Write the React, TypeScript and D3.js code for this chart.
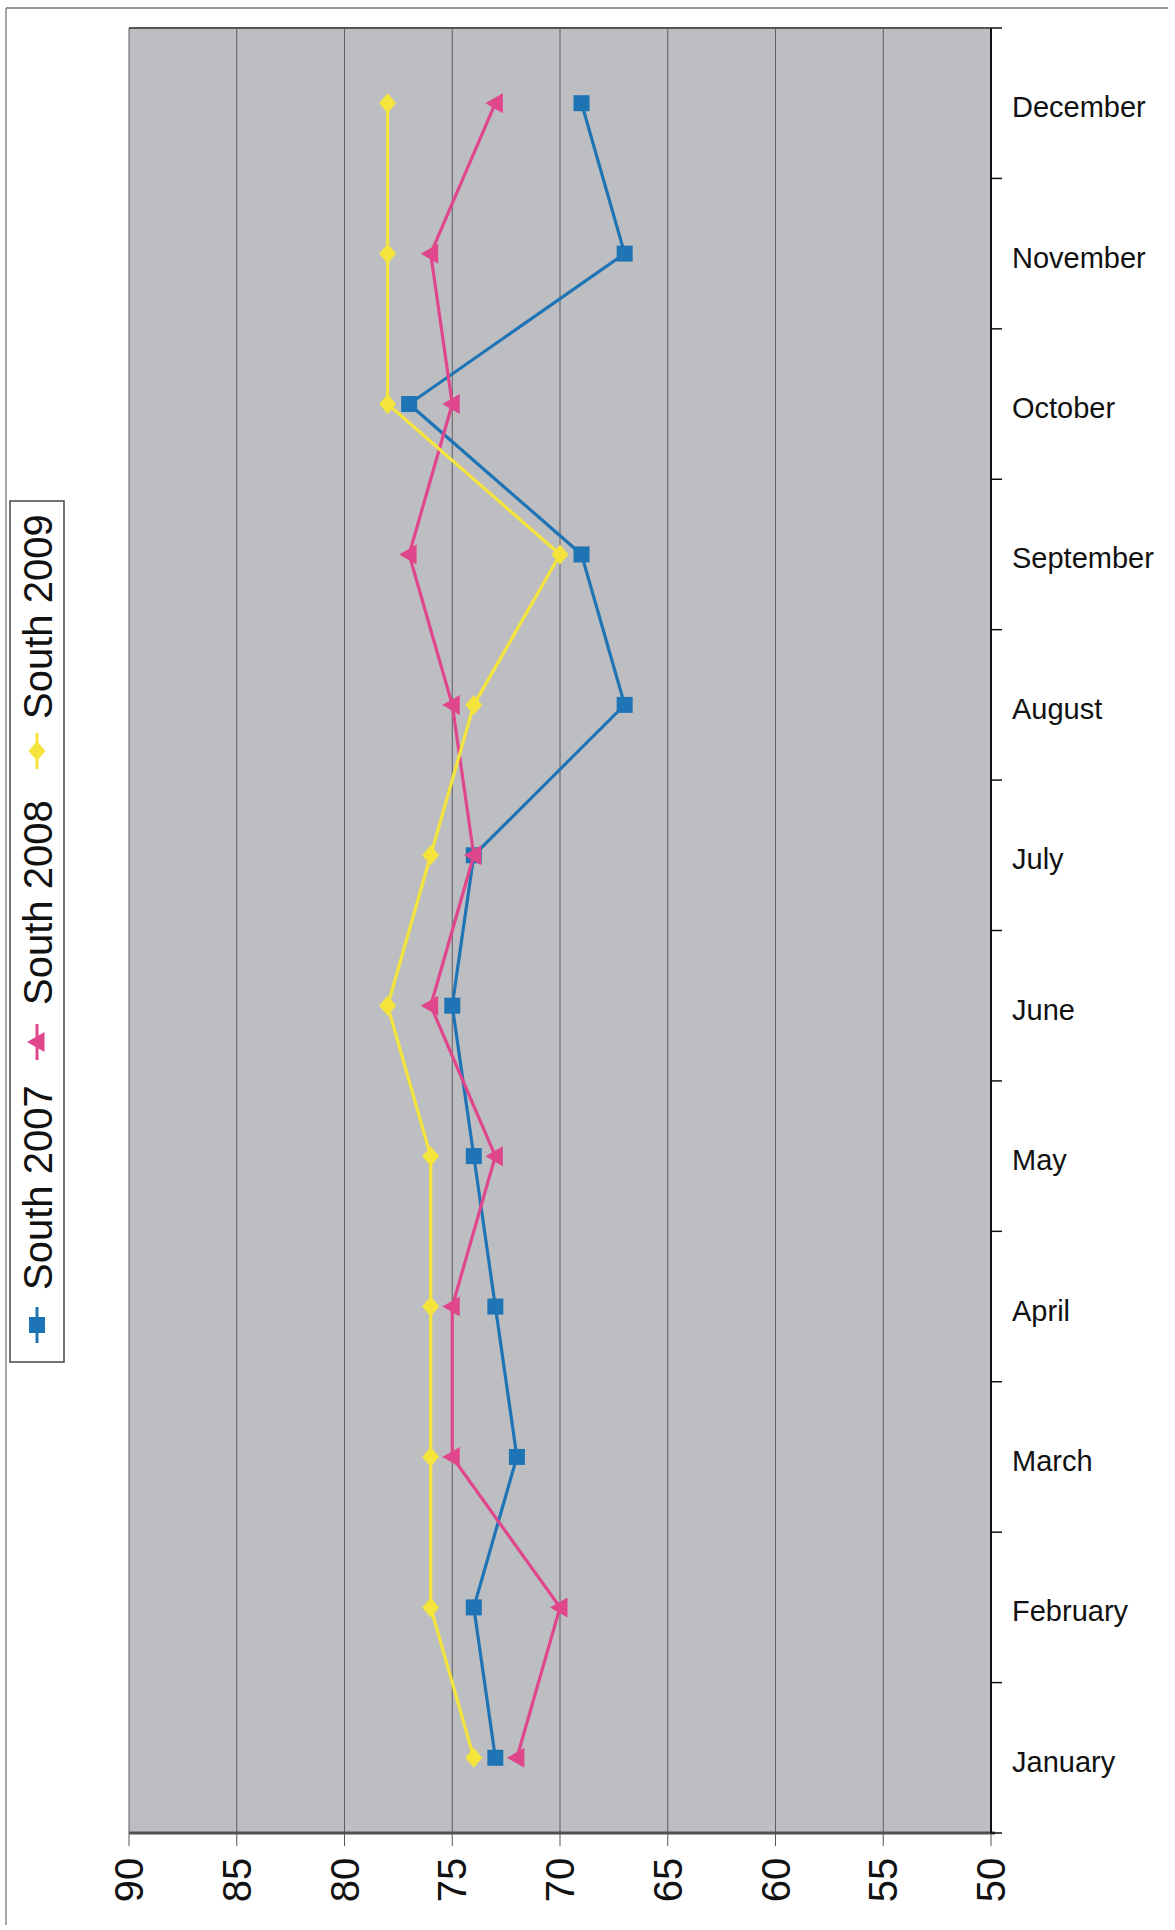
import React from "react";
import * as d3 from "d3";

const months = ["January","February","March","April","May","June","July","August","September","October","November","December"];
const south2007 = [73, 74, 72, 73, 74, 75, 74, 67, 69, 77, 67, 69];
const south2008 = [72, 70, 75, 75, 73, 76, 74, 75, 77, 75, 76, 73];
const south2009 = [74, 76, 76, 76, 76, 78, 76, 74, 70, 78, 78, 78];
const valueTicks = [90, 85, 80, 75, 70, 65, 60, 55, 50];
const seriesNames = ["South 2007", "South 2008", "South 2009"];

const COLORS = ["#1f74b5", "#e0468c", "#f4e43c"];
const FONT = "'Liberation Sans', Arial, sans-serif";

function Marker({ kind, cx, cy, color }: { kind: number; cx: number; cy: number; color: string }) {
  if (kind === 0) {
    const s = 16;
    return <rect x={cx - s / 2} y={cy - s / 2} width={s} height={s} fill={color} />;
  }
  if (kind === 1) {
    const r = 10;
    return <path d={`M${cx - r},${cy} L${cx + r * 0.75},${cy - r} L${cx + r * 0.75},${cy + r} Z`} fill={color} />;
  }
  const r = 10;
  return <path d={`M${cx},${cy - r} L${cx + r * 0.85},${cy} L${cx},${cy + r} L${cx - r * 0.85},${cy} Z`} fill={color} />;
}

export default function App() {
  const left = 129, right = 991, top = 28, bottom = 1833;
  const x = d3.scaleLinear().domain([90, 50]).range([left, right]);
  const y = d3.scaleBand<string>().domain([...months].reverse()).range([top, bottom]).padding(0);
  const cy = (m: string) => (y(m) as number) + y.bandwidth() / 2;
  const series = [south2007, south2008, south2009];
  const line = d3.line<[number, number]>().x(d => d[0]).y(d => d[1]);

  const legendX = 37;
  const legendEntries = [
    { marker: 1325, textStart: 1290 },
    { marker: 1042, textStart: 1005 },
    { marker: 751, textStart: 719 },
  ];

  return (
    <svg width={1175} height={1930} style={{ position: "absolute", left: 0, top: 0, background: "#fff" }} fontFamily={FONT}>
      <line x1={6} y1={8} x2={1168} y2={8} stroke="#777" strokeWidth={1.5} />
      <line x1={6} y1={8} x2={6} y2={1925} stroke="#888" strokeWidth={1.5} />

      <rect x={left} y={top} width={right - left} height={bottom - top} fill="#bdbec2" />
      {valueTicks.map(v => (
        <line key={"g" + v} x1={x(v)} x2={x(v)} y1={top} y2={bottom} stroke="#5e5e60" strokeWidth={1} />
      ))}
      <line x1={left} x2={right} y1={top} y2={top} stroke="#555" strokeWidth={2} />
      <line x1={left} x2={right + 4} y1={bottom} y2={bottom} stroke="#505050" strokeWidth={3} />
      {valueTicks.map(v => (
        <line key={"t" + v} x1={x(v)} x2={x(v)} y1={bottom} y2={bottom + 13} stroke="#555" strokeWidth={1} />
      ))}
      {valueTicks.map(v => (
        <text key={"l" + v} transform={`translate(${x(v)},${1880}) rotate(-90)`} textAnchor="middle" dominantBaseline="central" fontSize={40} fill="#111">{v}</text>
      ))}
      <line x1={right} x2={right} y1={top} y2={bottom} stroke="#111" strokeWidth={2} />
      {d3.range(months.length + 1).map(i => (
        <line key={"rt" + i} x1={right} x2={right + 11} y1={top + i * y.bandwidth()} y2={top + i * y.bandwidth()} stroke="#111" strokeWidth={1.5} />
      ))}
      {months.map(m => (
        <text key={m} x={1012} y={cy(m) + 4} dominantBaseline="central" fontSize={29} fill="#111">{m}</text>
      ))}

      {series.map((vals, si) => {
        const pts: [number, number][] = vals.map((v, i) => [x(v), cy(months[i])]);
        return (
          <g key={si}>
            <path d={line(pts) as string} fill="none" stroke={COLORS[si]} strokeWidth={3.2} />
            {pts.map((p, i) => <Marker key={i} kind={si} cx={p[0]} cy={p[1]} color={COLORS[si]} />)}
          </g>
        );
      })}

      <rect x={10} y={501} width={54} height={861} fill="#fff" stroke="#444" strokeWidth={1.5} />
      {legendEntries.map((e, i) => (
        <g key={i}>
          <line x1={legendX} x2={legendX} y1={e.marker + 18} y2={e.marker - 18} stroke={COLORS[i]} strokeWidth={3} />
          <Marker kind={i} cx={legendX} cy={e.marker} color={COLORS[i]} />
          <text transform={`translate(${legendX + 1},${e.textStart}) rotate(-90)`} dominantBaseline="central" fontSize={40} fill="#111">{seriesNames[i]}</text>
        </g>
      ))}
    </svg>
  );
}
